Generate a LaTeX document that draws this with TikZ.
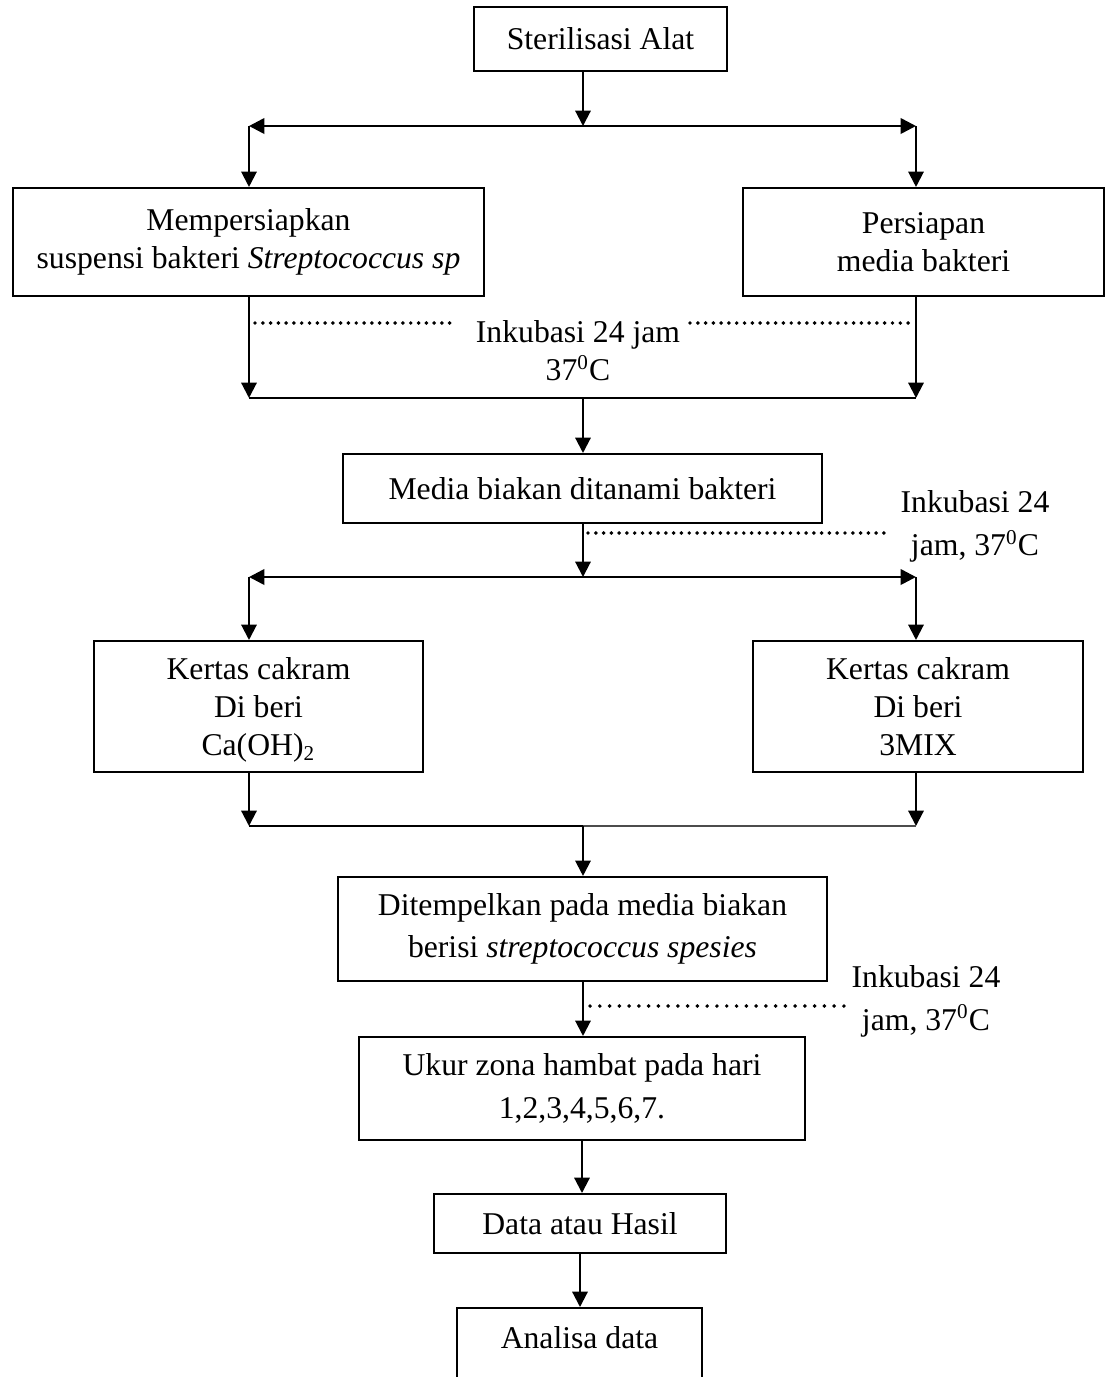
\documentclass[tikz,border=0pt]{standalone}
\usepackage{fontspec}
\setmainfont{Liberation Serif}
\usetikzlibrary{arrows.meta}

\begin{document}
\begin{tikzpicture}[
        x=0.3788pt, y=-0.3788pt,
        box/.style={draw, line width=0.8pt, align=center, inner sep=0pt,
            font=\fontsize{12}{14.5}\selectfont},
        note/.style={align=center, inner sep=0pt, font=\fontsize{12}{16.3}\selectfont},
        arr/.style={draw, line width=0.8pt, -{Triangle[length=5.8pt, width=5.8pt]}},
        split/.style={draw, line width=1pt,
            {Triangle[length=5.8pt, width=5.8pt]}-{Triangle[length=5.8pt, width=5.8pt]}},
        link/.style={draw, line width=0.8pt},
        dots/.style={draw, line width=1.5pt, line cap=round, dash pattern=on 0pt off 2.95pt}
    ]

    \clip (0,0) rectangle (1106,1377);

    % Boxes
    \node[box, minimum width=95.8pt, minimum height=24.2pt] (steril) at (600.5,39) {Sterilisasi Alat};
    \node[box, minimum width=178.4pt, minimum height=40.9pt] (suspensi) at (248.5,242)
        {Mempersiapkan\\suspensi bakteri \textit{Streptococcus sp}};
    \node[box, minimum width=136.7pt, minimum height=40.9pt] (media) at (923.5,242)
        {Persiapan\\media bakteri};
    \node[box, minimum width=181.4pt, minimum height=26.1pt] (tanam) at (582.5,488.5)
        {Media biakan ditanami bakteri};
    \node[box, minimum width=124.6pt, minimum height=49.6pt] (cakramA) at (258.5,706.5)
        {Kertas cakram\\Di beri\\\smash{Ca(OH)\textsubscript{2}}};
    \node[box, minimum width=125pt, minimum height=49.6pt] (cakramB) at (918,706.5)
        {Kertas cakram\\Di beri\\3MIX};
    \node[box, minimum width=185.2pt, minimum height=39.4pt] (tempel) at (582.5,929)
        {Ditempelkan pada media biakan\\[1.5pt]berisi \textit{streptococcus spesies}};
    \node[box, minimum width=168.9pt, minimum height=39pt] (ukur) at (582,1088.5)
        {Ukur zona hambat pada hari\\[1.5pt]1,2,3,4,5,6,7.};
    \node[box, minimum width=110.6pt, minimum height=22.3pt] (hasil) at (580,1223.5) {Data atau Hasil};
    \node[box, anchor=north, minimum width=92.8pt, text height=8pt, text depth=30pt,
        inner ysep=7.3pt] (analisa) at (579.5,1307) {Analisa data};

    % Incubation notes
    \node[box, draw=none] (inkubasiA) at (578,351) {Inkubasi 24 jam\\37\textsuperscript{0}C};
    \node[note] (inkubasiB) at (975,526.5) {Inkubasi 24\\jam, 37\textsuperscript{0}C};
    \node[note] (inkubasiC) at (926,1001) {Inkubasi 24\\jam, 37\textsuperscript{0}C};

    % Junction points
    \coordinate (splitL) at (249,126);
    \coordinate (splitM) at (583,126);
    \coordinate (splitR) at (916,126);
    \coordinate (joinL) at (249,398);
    \coordinate (joinM) at (583,398);
    \coordinate (joinR) at (916,398);
    \coordinate (branchL) at (249,577);
    \coordinate (branchM) at (583,577);
    \coordinate (branchR) at (916,577);
    \coordinate (mergeL) at (249,826);
    \coordinate (mergeM) at (583,826);
    \coordinate (mergeR) at (916,826);

    % Sterilisasi to the two preparations
    \draw[arr] (steril.south -| splitM) -- (splitM);
    \draw[split] (splitL) -- (splitR);
    \draw[arr] (splitL) -- (suspensi.north -| splitL);
    \draw[arr] (splitR) -- (media.north -| splitR);

    % Incubation, then joined
    \draw[arr] (suspensi.south -| joinL) -- (joinL);
    \draw[arr] (media.south -| joinR) -- (joinR);
    \draw[link] (joinL) -- (joinR);
    \draw[arr] (joinM) -- (tanam.north -| joinM);
    \draw[dots] (255,323) -- (452,323);
    \draw[dots] (690,323) -- (910,323);

    % Split to the two paper discs
    \draw[arr] (tanam.south -| branchM) -- (branchM);
    \draw[dots] (588,533) -- (889,533);
    \draw[split] (branchL) -- (branchR);
    \draw[arr] (branchL) -- (cakramA.north -| branchL);
    \draw[arr] (branchR) -- (cakramB.north -| branchR);

    % Discs joined again
    \draw[arr] (cakramA.south -| mergeL) -- (mergeL);
    \draw[arr] (cakramB.south -| mergeR) -- (mergeR);
    \draw[line width=1pt] (mergeL) -- (mergeM);
    \draw[line width=0.4pt, black!70] (mergeM) -- (mergeR);
    \draw[arr] (mergeM) -- (tempel.north -| mergeM);

    % Down to the result
    \draw[arr] (tempel.south -| mergeM) -- (ukur.north -| mergeM);
    \draw[dots, dash pattern=on 0pt off 3.7pt] (590,1006) -- (847,1006);
    \draw[arr] (ukur.south) -- (hasil.north -| ukur.south);
    \draw[arr] (hasil.south) -- (analisa.north -| hasil.south);

\end{tikzpicture}
\end{document}
